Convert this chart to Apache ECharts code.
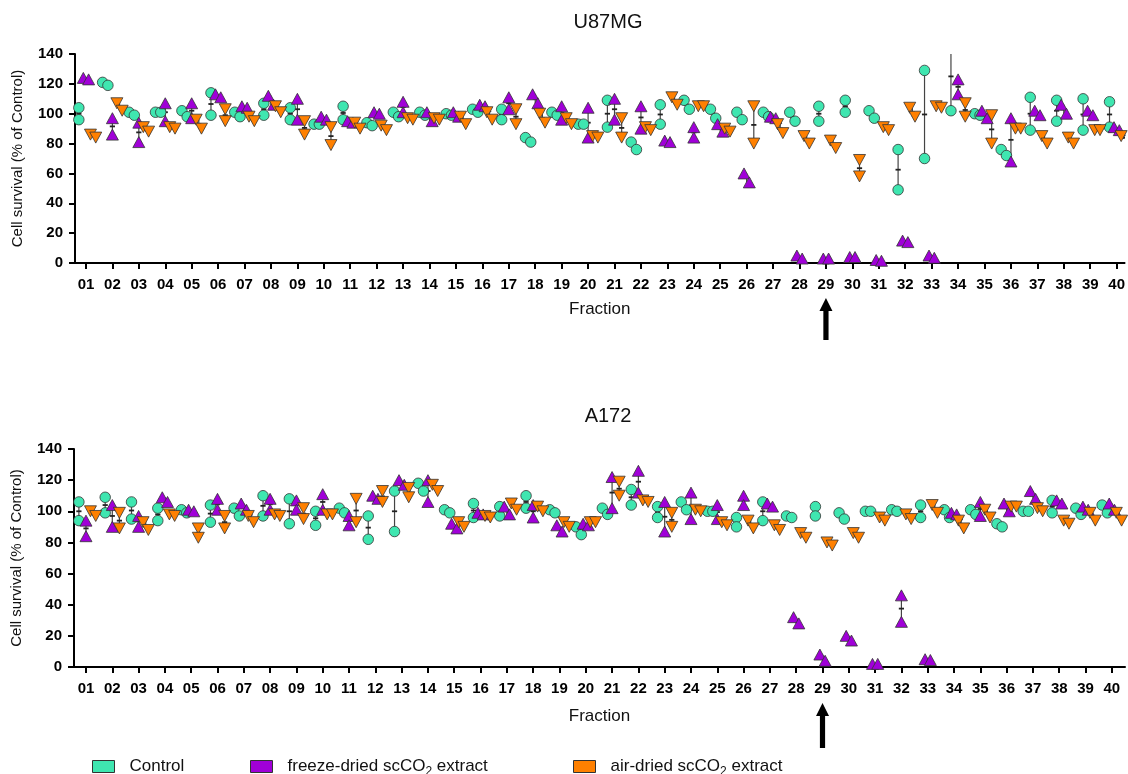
<!DOCTYPE html>
<html><head><meta charset="utf-8">
<script src="https://cdn.jsdelivr.net/npm/echarts@6/dist/echarts.min.js"></script>
<style>html,body{margin:0;padding:0;background:#fff}#c{width:1128px;height:774px}</style>
</head><body><div id="c"></div>
<script>
// ---------- DATA ----------
const fractions = ['01','02','03','04','05','06','07','08','09','10','11','12','13','14','15','16','17','18','19','20',
                   '21','22','23','24','25','26','27','28','29','30','31','32','33','34','35','36','37','38','39','40'];
const yTicks = [0,20,40,60,80,100,120,140];
const seriesNames = ['Control','freeze-dried scCO2 extract','air-dried scCO2 extract'];
const panelTitles = ['U87MG','A172'];

// U87MG: two replicates per fraction
const u87Control = [[104,96],[121,119],[101,99],[101,101],[102,98],[114,99],[101,98],[107,99],[104,96],[93,93],
  [105,96],[94,92],[101,98],[101,99],[100,99],[103,101],[103,96],[84,81],[101,99],[93,93],
  [109,91],[81,76],[106,93],[109,103],[103,97],[101,96],[101,98],[101,95],[105,95],[109,101],
  [102,97],[76,49],[129,70],[102,148],[100,99],[76,72],[111,89],[109,95],[110,89],[108,91]];
const u87Freeze = [[124,123],[97,86],[94,81],[107,95],[107,97],[113,111],[105,104],[112,106],[110,96],[98,96],
  [95,94],[101,100],[108,101],[101,95],[101,98],[106,105],[111,103],[113,107],[105,96],[104,84],
  [110,96],[105,90],[82,81],[91,84],[93,88],[60,54],[98,97],[5,3],[3,3],[4,4],
  [2,1.5],[15,14],[5,3.5],[123,113],[102,97],[97,68],[102,99],[106,100],[102,99],[91,89]];
const u87Air = [[86,84],[107,102],[91,88],[91,90],[96,90],[103,95],[98,95],[105,101],[95,86],[91,79],
  [94,90],[92,89],[97,96],[97,96],[98,93],[101,96],[103,93],[100,94],[97,93],[85,84],
  [97,84],[91,89],[111,106],[105,105],[90,88],[105,80],[93,87],[85,80],[82,77],[69,58],
  [91,89],[104,98],[105,104],[107,98],[99,80],[90,90],[85,80],[84,80],[89,89],[85,83]];

// A172
const a172Control = [[106,94],[109,99],[106,95],[102,94],[101,99],[104,93],[102,97],[110,97],[108,92],[100,91],
  [102,99],[97,82],[113,87],[118,113],[101,99],[105,96],[103,97],[110,102],[101,99],[90,85],
  [102,98],[114,104],[103,96],[106,101],[100,100],[96,90],[106,94],[97,96],[103,97],[99,95],
  [100,100],[101,100],[104,96],[101,96],[101,98],[92,90],[100,100],[107,99],[102,98],[104,99]];
const a172Freeze = [[94,84],[104,90],[97,90],[109,106],[101,100],[108,101],[105,101],[108,101],[107,101],[111,101],
  [97,91],[110,108],[120,117],[120,106],[92,89],[99,98],[103,98],[104,96],[91,87],[92,91],
  [122,102],[126,112],[106,87],[112,95],[104,95],[110,104],[105,103],[32,28],[8,4],[20,17],
  [2,2],[46,29],[5,4.5],[99,98],[106,97],[105,100],[113,108],[107,105],[103,101],[105,101]];
const a172Air = [[100,97],[99,89],[93,88],[98,97],[89,83],[97,89],[97,93],[98,97],[102,95],[98,98],
  [108,93],[113,106],[115,109],[117,113],[93,90],[97,96],[105,101],[103,100],[93,90],[93,93],
  [119,110],[107,106],[99,90],[101,100],[93,91],[94,89],[91,88],[86,83],[80,78],[86,83],
  [96,94],[98,95],[104,99],[94,89],[101,96],[103,103],[102,100],[94,92],[99,94],[99,94]];

// ---------- STYLE / LAYOUT ----------
const FONT = 'Liberation Sans, Arial, sans-serif';
const colors = ['#3FE6B0', '#A000D8', '#FF8000'];
const groupOffset = [-0.27, 0, 0.27];
const dodge = 0.1;
const grids = [
  {left: 75, top: 54, width: 1053, height: 209, xmin: 0.585, xmax: 40.3, nameGap: 38},
  {left: 74, top: 449, width: 1051, height: 218, xmin: 0.544, xmax: 40.5, nameGap: 41}
];
const panels = [[u87Control, u87Freeze, u87Air], [a172Control, a172Freeze, a172Air]];
const fracPos = fractions.map((f, i) => i + 1);

function barRender(params, api) {
  const x = api.value(0);
  const m = api.coord([x, api.value(1)]);
  const lo = api.coord([x, api.value(2)]);
  const hi = api.coord([x, api.value(3)]);
  return {type: 'group', children: [
    {type: 'line', shape: {x1: lo[0], y1: lo[1], x2: hi[0], y2: hi[1]}, style: {stroke: '#444', lineWidth: 1.2}},
    {type: 'line', shape: {x1: m[0] - 2.6, y1: m[1], x2: m[0] + 2.6, y2: m[1]}, style: {stroke: '#222', lineWidth: 1.8}}
  ]};
}

const series = [];
panels.forEach((groups, gi) => {
  const pxPerUnit = grids[gi].height / 140;
  const thr = 9 / pxPerUnit;
  groups.forEach((vals, k) => {
    const pts = [], bars = [];
    vals.forEach((pair, i) => {
      const cx = fracPos[i] + groupOffset[k];
      const [a, b] = pair;
      const d = Math.abs(a - b) < thr ? dodge : 0;
      pts.push([cx - d, a], [cx + d, b]);
      const mean = (a + b) / 2;
      bars.push([cx, mean, Math.min(a, b), Math.max(a, b)]);
    });
    series.push({
      type: 'custom', xAxisIndex: gi, yAxisIndex: gi, clip: true, z: 2,
      renderItem: barRender, data: bars, silent: true
    });
    series.push({
      type: 'scatter', name: seriesNames[k], xAxisIndex: gi, yAxisIndex: gi, z: 3 + k, clip: true,
      symbol: k === 0 ? 'circle' : 'triangle', symbolSize: k === 0 ? 10.5 : [12, 11],
      symbolRotate: k === 2 ? 180 : 0,
      itemStyle: {color: colors[k], borderColor: '#333', borderWidth: 0.8, opacity: 1},
      data: pts
    });
  });
});

const xAxes = grids.map((g, gi) => ({
  type: 'value', gridIndex: gi, min: g.xmin, max: g.xmax,
  name: 'Fraction', nameLocation: 'middle', nameGap: g.nameGap,
  nameTextStyle: {fontSize: 17, color: '#111', fontFamily: FONT},
  axisLine: {show: true, onZero: false, lineStyle: {color: '#000', width: 2}},
  axisTick: {show: true, length: 6, lineStyle: {color: '#000', width: 2}, customValues: fracPos},
  axisLabel: {customValues: fracPos, formatter: v => fractions[Math.round(v) - 1], fontSize: 15,
    fontWeight: 'bold', color: '#000', margin: 14, fontFamily: FONT},
  splitLine: {show: false}
}));
const yAxes = grids.map((g, gi) => ({
  type: 'value', gridIndex: gi, min: yTicks[0], max: yTicks[yTicks.length - 1], interval: 20,
  name: 'Cell survival (% of Control)', nameLocation: 'middle', nameGap: 50, nameRotate: 90,
  nameTextStyle: {fontSize: 15, color: '#111', fontFamily: FONT},
  axisLine: {show: true, lineStyle: {color: '#000', width: 2}},
  axisTick: {show: true, length: 6, lineStyle: {color: '#000', width: 2}},
  axisLabel: {fontSize: 15, fontWeight: 'bold', color: '#000', margin: 12, fontFamily: FONT},
  splitLine: {show: false}
}));

const legendCommon = {
  icon: 'rect', itemWidth: 22, itemHeight: 12, padding: 0, selectedMode: false,
  itemStyle: {borderColor: '#333', borderWidth: 1},
  formatter: name => name.replace(/^(.*CO)2(.*)$/, '{n|$1}{s|2}{n|$2}'),
  textStyle: {fontSize: 17, color: '#111', fontFamily: FONT, padding: [0, 0, 0, 10],
    rich: {
      n: {fontSize: 17, color: '#111', fontFamily: FONT, lineHeight: 22},
      s: {fontSize: 12, color: '#111', fontFamily: FONT, lineHeight: 12, verticalAlign: 'bottom'}
    }}
};

const chart = echarts.init(document.getElementById('c'));
chart.setOption({
  animation: false,
  backgroundColor: '#fff',
  textStyle: {fontFamily: FONT},
  title: [
    {text: panelTitles[0], left: 603, top: 7, textAlign: 'center', textStyle: {fontSize: 20, fontWeight: 'normal', color: '#111', fontFamily: FONT}},
    {text: panelTitles[1], left: 603, top: 401, textAlign: 'center', textStyle: {fontSize: 20, fontWeight: 'normal', color: '#111', fontFamily: FONT}}
  ],
  grid: grids.map(g => ({left: g.left, top: g.top, width: g.width, height: g.height, containLabel: false})),
  xAxis: xAxes,
  yAxis: yAxes,
  legend: [
    Object.assign({data: [seriesNames[0]], left: 92, top: 758}, legendCommon),
    Object.assign({data: [seriesNames[1]], left: 250, top: 758}, legendCommon),
    Object.assign({data: [seriesNames[2]], left: 573, top: 758}, legendCommon)
  ],
  series: series
});

// arrows pointing at fraction 29
const arrowFraction = 29;
const arrows = [[298, 340], [703, 748]].map((span, gi) => {
  const p = chart.convertToPixel({xAxisIndex: gi, yAxisIndex: gi}, [arrowFraction, 0]);
  const x = p[0], top = span[0], bot = span[1];
  return {type: 'polygon', silent: true, z: 100,
    shape: {points: [[x, top], [x + 6.5, top + 13], [x + 2.6, top + 13], [x + 2.6, bot], [x - 2.6, bot], [x - 2.6, top + 13], [x - 6.5, top + 13]]},
    style: {fill: '#000'}};
});
chart.setOption({graphic: arrows});
</script>
</body></html>
